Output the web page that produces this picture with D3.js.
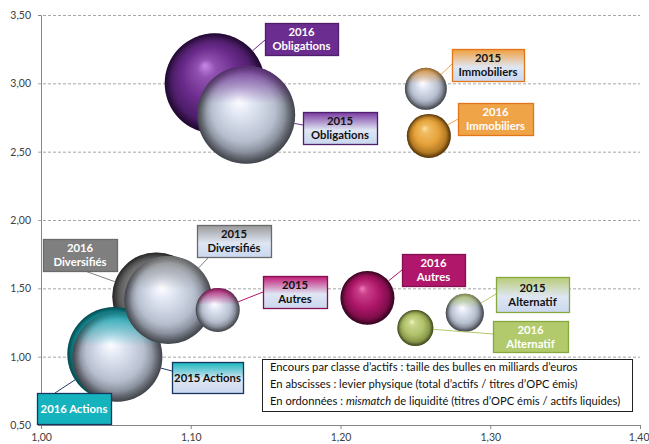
<!DOCTYPE html>
<html><head><meta charset="utf-8">
<script src="https://cdn.jsdelivr.net/npm/d3@7"></script>
<style>
body{margin:0;background:#fff}
svg{display:block}
text{font-family:Lato,"Liberation Sans",Arial,sans-serif}
</style>
</head><body>
<svg id="chart" width="649" height="444"></svg>
<script>
// ---------------- DATA ----------------
const categories = ["Obligations","Diversifiés","Actions","Autres","Immobiliers","Alternatif"];
const years = ["2015","2016"];
// levier physique (x), mismatch de liquidité (y), encours en milliards d'euros (size)
const x2015 = [1.137, 1.085, 1.051, 1.118, 1.257, 1.283];
const y2015 = [2.77, 1.415, 1.00, 1.342, 2.96, 1.32];
const size2015 = [317, 256, 267, 64, 58, 48];
const x2016 = [1.116, 1.077, 1.049, 1.218, 1.259, 1.250];
const y2016 = [3.00, 1.44, 1.02, 1.43, 2.615, 1.21];
const size2016 = [330, 256, 292, 96, 64, 43];
const xTicks = [1.00, 1.10, 1.20, 1.30, 1.40];
const yTicks = [0.50, 1.00, 1.50, 2.00, 2.50, 3.00, 3.50];
const noteLines = [
  [{t:"Encours par classe d\u2019actifs : taille des bulles en milliards d\u2019euros"}],
  [{t:"En abscisses : levier physique (total d\u2019actifs / titres d\u2019OPC émis)"}],
  [{t:"En ordonnées : "},{t:"mismatch",i:true},{t:" de liquidité (titres d\u2019OPC émis / actifs liquides)"}]
];

// ---------------- STYLE / LAYOUT ----------------
const style = {
  "Obligations": {base:"#6a2b8c", hi:"#c889e6", dark:"#2c0c42", tint:"#7a3aa0", box:"#6b2d8f", border:"#4e1f6b", line:"#6b2d8f"},
  "Diversifiés": {base:"#7a7a7a", hi:"#cfcfcf", dark:"#363636", tint:"#9a9a9a", box:"#7f7f7f", border:"#6a6a6a", line:"#7f7f7f"},
  "Actions":     {base:"#17b3bd", hi:"#b0f4f8", dark:"#086870", tint:"#1ab6bf", box:"#15b3bd", border:"#14365f", line:"#1f3a6a"},
  "Autres":      {base:"#ad1668", hi:"#f27ab9", dark:"#4a0429", tint:"#c21b78", box:"#b0176a", border:"#85104f", line:"#b0176a"},
  "Immobiliers": {base:"#e6a23a", hi:"#fde2a0", dark:"#77490a", tint:"#f0a040", box:"#f0a448", border:"#e2741a", line:"#f0a448"},
  "Alternatif":  {base:"#b0c26a", hi:"#eff5bb", dark:"#5a6526", tint:"#b9cc78", box:"#b2ca6c", border:"#86a83c", line:"#b2ca6c"}
};
// label boxes [x, y, w, h] and leader anchor [ax, ay] in pixels
const labelLayout = {
  "2016|Obligations": {box:[265,23,73,32], a:[265,40]},
  "2015|Obligations": {box:[303,112,74,32], a:[303,125]},
  "2015|Immobiliers": {box:[452,49,72,32], a:[452,64]},
  "2016|Immobiliers": {box:[458,103,75,32], a:[458,119]},
  "2016|Autres":      {box:[402,254,63,32], a:[402,270]},
  "2015|Alternatif":  {box:[496,277,73,35], a:[496,294]},
  "2016|Alternatif":  {box:[493,321,75,31], a:[493,334]},
  "2016|Diversifiés": {box:[43,239,74,32], a:[85,271]},
  "2015|Diversifiés": {box:[197,225,74,32], a:[209,257]},
  "2015|Autres":      {box:[263,276,64,32], a:[263,292]},
  "2015|Actions":     {box:[172,362,71,31], a:[172,371], one:true},
  "2016|Actions":     {box:[37,393,74,31], a:[55,393], one:true}
};
const drawOrder = [
  ["2016","Obligations"],["2016","Diversifiés"],["2016","Actions"],["2016","Autres"],["2016","Immobiliers"],["2016","Alternatif"],
  ["2015","Actions"],["2015","Diversifiés"],["2015","Autres"],["2015","Obligations"],["2015","Immobiliers"],["2015","Alternatif"]
];

// ---------------- BUILD ----------------
const series = {
  "2015": categories.map((c,i)=>({cat:c, year:"2015", x:x2015[i], y:y2015[i], s:size2015[i]})),
  "2016": categories.map((c,i)=>({cat:c, year:"2016", x:x2016[i], y:y2016[i], s:size2016[i]}))
};
const svg = d3.select("#chart");
const x = d3.scaleLinear().domain([1.0,1.4]).range([41,640]);
const y = d3.scaleLinear().domain([0.5,3.5]).range([425,15]);
const r = d3.scaleSqrt().domain([0,330]).range([0,50]);
const fmt = v => d3.format(".2f")(v).replace(".",",");

const defs = svg.append("defs");
categories.forEach((c,i)=>{
  const st = style[c];
  const g6 = defs.append("radialGradient").attr("id","g16_"+i)
    .attr("cx","50%").attr("cy","50%").attr("r","50%").attr("fx","40%").attr("fy","32%");
  g6.append("stop").attr("offset","0%").attr("stop-color",st.hi);
  g6.append("stop").attr("offset","18%").attr("stop-color",d3.interpolateRgb(st.hi,st.base)(0.6));
  g6.append("stop").attr("offset","55%").attr("stop-color",st.base);
  g6.append("stop").attr("offset","85%").attr("stop-color",d3.interpolateRgb(st.base,st.dark)(0.5));
  g6.append("stop").attr("offset","100%").attr("stop-color",st.dark);
  const t = defs.append("linearGradient").attr("id","tint_"+i).attr("x1",0).attr("y1",0).attr("x2",0).attr("y2",1);
  t.append("stop").attr("offset","0%").attr("stop-color",st.tint).attr("stop-opacity",0.9);
  t.append("stop").attr("offset","38%").attr("stop-color",st.tint).attr("stop-opacity",0);
  const lb = defs.append("linearGradient").attr("id","lb_"+i).attr("x1",0).attr("y1",0).attr("x2",0).attr("y2",1);
  lb.append("stop").attr("offset","0%").attr("stop-color",st.tint);
  lb.append("stop").attr("offset","55%").attr("stop-color","#dfe6f3");
  lb.append("stop").attr("offset","100%").attr("stop-color","#c9d7ef");
});
const silver = defs.append("radialGradient").attr("id","silver")
  .attr("cx","50%").attr("cy","50%").attr("r","50%").attr("fx","42%").attr("fy","35%");
silver.append("stop").attr("offset","0%").attr("stop-color","#ffffff");
silver.append("stop").attr("offset","22%").attr("stop-color","#e4e9f5");
silver.append("stop").attr("offset","65%").attr("stop-color","#b7bfcf");
silver.append("stop").attr("offset","100%").attr("stop-color","#5c6069");
const rim = defs.append("radialGradient").attr("id","rim")
  .attr("cx","50%").attr("cy","50%").attr("r","50%").attr("fx","45%").attr("fy","42%");
rim.append("stop").attr("offset","80%").attr("stop-color","#000").attr("stop-opacity",0);
rim.append("stop").attr("offset","100%").attr("stop-color","#000").attr("stop-opacity",0.3);

// gridlines
svg.append("g").selectAll("line").data(yTicks.filter(v=>v>0.5)).join("line")
  .attr("x1",38).attr("x2",640).attr("y1",d=>y(d)+0.5).attr("y2",d=>y(d)+0.5)
  .attr("stroke","#a6a6a6").attr("stroke-width",1).attr("stroke-dasharray","3,2");

// axes
const yAxis = svg.append("g").attr("transform","translate(41,0)")
  .call(d3.axisLeft(y).tickValues(yTicks).tickFormat(fmt).tickSize(3).tickPadding(7));
const xAxis = svg.append("g").attr("transform","translate(0,425)")
  .call(d3.axisBottom(x).tickValues(xTicks).tickFormat(fmt).tickSize(4).tickPadding(5));
[yAxis,xAxis].forEach(a=>{
  a.select(".domain").attr("stroke","#868686");
  a.selectAll(".tick line").attr("stroke","#868686");
  a.selectAll(".tick text").attr("fill","#404040").style("font-size","10.5px").style("font-family","Lato, 'Liberation Sans', sans-serif");
});
yAxis.selectAll(".tick line").filter(d=>d>0.5).remove();
xAxis.selectAll(".tick text").filter(d=>d===1.4).attr("text-anchor","end").attr("dx","9");

// bubbles
const bub = svg.append("g");
drawOrder.forEach(([yr,c])=>{
  const i = categories.indexOf(c);
  const d = series[yr][i];
  const cx = x(d.x), cy = y(d.y), rr = r(d.s);
  if (yr==="2016") {
    bub.append("circle").attr("cx",cx).attr("cy",cy).attr("r",rr).attr("fill",`url(#g16_${i})`);
  } else {
    bub.append("circle").attr("cx",cx).attr("cy",cy).attr("r",rr).attr("fill","url(#silver)");
    bub.append("circle").attr("cx",cx).attr("cy",cy).attr("r",rr).attr("fill",`url(#tint_${i})`);
  }
  bub.append("circle").attr("cx",cx).attr("cy",cy).attr("r",rr).attr("fill","url(#rim)");
});

// leader lines + labels
const lab = svg.append("g");
years.forEach(yr=>{
  series[yr].forEach((d,i)=>{
    const key = yr+"|"+d.cat, L = labelLayout[key], st = style[d.cat];
    const cx = x(d.x), cy = y(d.y), rr = r(d.s);
    const dx = L.a[0]-cx, dy = L.a[1]-cy, len = Math.hypot(dx,dy);
    lab.append("line").attr("x1",L.a[0]).attr("y1",L.a[1])
      .attr("x2",cx+dx/len*rr).attr("y2",cy+dy/len*rr)
      .attr("stroke",st.line).attr("stroke-width",1);
  });
});
years.forEach(yr=>{
  series[yr].forEach((d,i)=>{
    const key = yr+"|"+d.cat, L = labelLayout[key], st = style[d.cat];
    const [bx,by,bw,bh] = L.box;
    lab.append("rect").attr("x",bx+0.5).attr("y",by+0.5).attr("width",bw).attr("height",bh)
      .attr("fill", yr==="2016" ? st.box : `url(#lb_${i})`)
      .attr("stroke",st.border).attr("stroke-width",1.3);
    const col = yr==="2016" ? "#ffffff" : "#111111";
    const t = lab.append("text").attr("text-anchor","middle").attr("fill",col)
      .style("font-size","11.3px").style("font-weight","bold");
    if (L.one) {
      t.attr("x",bx+bw/2).attr("y",by+bh/2+4).text(yr+" "+d.cat);
    } else {
      t.append("tspan").attr("x",bx+bw/2).attr("y",by+bh/2-3).text(yr);
      t.append("tspan").attr("x",bx+bw/2).attr("y",by+bh/2+11).text(d.cat);
    }
  });
});

// note box
const note = svg.append("g");
note.append("rect").attr("x",262.5).attr("y",359.5).attr("width",370).attr("height",52)
  .attr("fill","#fff").attr("stroke","#222").attr("stroke-width",1);
noteLines.forEach((parts,k)=>{
  const t = note.append("text").attr("x",270).attr("y",371+k*17).attr("fill","#111").style("font-size","11.2px");
  parts.forEach(p=>t.append("tspan").text(p.t).style("font-style",p.i?"italic":"normal"));
});
</script>
</body></html>
